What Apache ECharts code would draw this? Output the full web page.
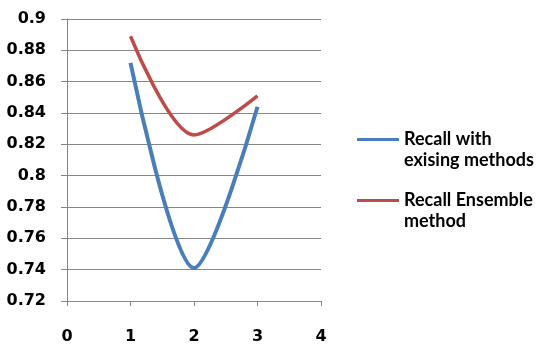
<!DOCTYPE html>
<html>
<head>
<meta charset="utf-8">
<script src="https://cdn.jsdelivr.net/npm/echarts@6/dist/echarts.min.js"></script>
<style>
  html, body { margin: 0; padding: 0; background: #fff; }
  #chart { width: 540px; height: 345px; }
</style>
</head>
<body>
<div id="chart"></div>
<script>
var xPoints = [1, 2, 3];
var recallExisting = [0.872, 0.741, 0.844];
var recallEnsemble = [0.889, 0.826, 0.851];
var seriesNames = ['Recall with exising methods', 'Recall Ensemble method'];
// leading blank line keeps the icon level with the first text line
var legendLines = {
  'Recall with exising methods': '\nRecall with\nexising methods',
  'Recall Ensemble method': '\nRecall Ensemble\nmethod'
};

function pairs(xs, ys) {
  return xs.map(function (x, i) { return [x, ys[i]]; });
}

var chart = echarts.init(document.getElementById('chart'));
var labelFont = { fontFamily: 'DejaVu Sans', fontWeight: 'bold', fontSize: 16, color: '#000' };

chart.setOption({
  animation: false,
  grid: { left: 67, right: 219, top: 19, bottom: 42 },
  xAxis: {
    type: 'value', min: 0, max: 4, interval: 1,
    axisLine: { lineStyle: { color: '#868686', width: 1 } },
    axisTick: { show: true, length: 5, lineStyle: { color: '#868686' } },
    axisLabel: Object.assign({ margin: 28 }, labelFont),
    splitLine: { show: false }
  },
  yAxis: {
    type: 'value', min: 0.72, max: 0.9, interval: 0.02,
    axisLine: { show: true, lineStyle: { color: '#868686', width: 1 } },
    axisTick: { show: true, length: 6, lineStyle: { color: '#868686' } },
    axisLabel: Object.assign({ margin: 21, formatter: function (v) { return String(+v.toFixed(2)); } }, labelFont),
    splitLine: { lineStyle: { color: '#868686', width: 1 } }
  },
  legend: {
    orient: 'vertical', left: 357, top: 108, padding: 0,
    itemWidth: 42, itemHeight: 3, itemGap: -2,
    icon: 'rect',
    data: seriesNames,
    formatter: function (name) { return legendLines[name]; },
    textStyle: {
      fontFamily: 'Lato', fontWeight: 'bold', fontSize: 18,
      lineHeight: 21, color: '#000'
    }
  },
  series: [
    {
      name: seriesNames[0], type: 'line', data: pairs(xPoints, recallExisting),
      smooth: 0.3, symbol: 'none',
      lineStyle: { color: '#4A7EBB', width: 4 }, itemStyle: { color: '#4A7EBB' }
    },
    {
      name: seriesNames[1], type: 'line', data: pairs(xPoints, recallEnsemble),
      smooth: 0.3, symbol: 'none',
      lineStyle: { color: '#BE4B48', width: 3.5 }, itemStyle: { color: '#BE4B48' }
    }
  ]
});
</script>
</body>
</html>
